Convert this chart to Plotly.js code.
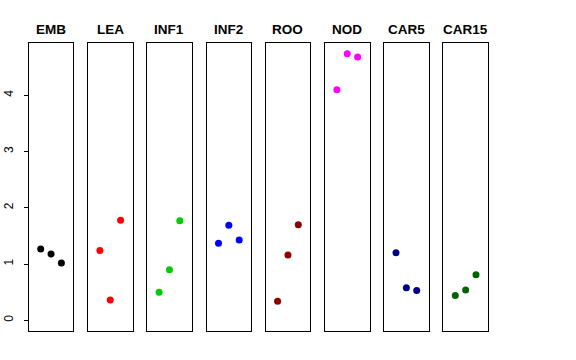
<!DOCTYPE html>
<html>
<head>
<meta charset="utf-8">
<script src="https://cdn.plot.ly/plotly-3.0.1.min.js"></script>
<style>html,body{margin:0;padding:0;background:#fff;}#chart{width:576px;height:360px;}</style>
</head>
<body>
<div id="chart"></div>
<script>
// Data
var categories = ["EMB", "LEA", "INF1", "INF2", "ROO", "NOD", "CAR5", "CAR15"];
var positions = [1, 2, 3];
var EMB   = [1.27, 1.18, 1.02];
var LEA   = [1.24, 0.36, 1.78];
var INF1  = [0.50, 0.90, 1.77];
var INF2  = [1.37, 1.69, 1.43];
var ROO   = [0.34, 1.16, 1.70];
var NOD   = [4.10, 4.74, 4.68];
var CAR5  = [1.20, 0.58, 0.53];
var CAR15 = [0.44, 0.54, 0.81];
var seriesValues = [EMB, LEA, INF1, INF2, ROO, NOD, CAR5, CAR15];
var colors = ["#000000", "#FF0000", "#00CD00", "#0000FF", "#8B0000", "#FF00FF", "#00008B", "#006400"];
var yTicks = [0, 1, 2, 3, 4];

var W = 576, H = 360;
var panelLefts = [28.7, 87.9, 147.1, 206.5, 265.6, 324.9, 384.0, 443.3];
var panelWidth = 44.7;
var panelTop = 43, panelBottom = 331;

var traces = [];
var layout = {
  width: W, height: H,
  margin: {l: 0, r: 0, t: 0, b: 0},
  paper_bgcolor: "#ffffff",
  plot_bgcolor: "#ffffff",
  showlegend: false,
  font: {family: "Liberation Sans, Arial, sans-serif", size: 11, color: "#000"},
  annotations: []
};

categories.forEach(function (cat, i) {
  var n = i + 1;
  var xa = "x" + (n === 1 ? "" : n);
  var ya = "y" + (n === 1 ? "" : n);
  traces.push({
    type: "scatter",
    mode: "markers",
    x: positions,
    y: seriesValues[i],
    xaxis: xa,
    yaxis: ya,
    marker: {color: colors[i], size: 7},
    hoverinfo: "skip"
  });
  var xkey = "xaxis" + (n === 1 ? "" : n);
  var ykey = "yaxis" + (n === 1 ? "" : n);
  layout[xkey] = {
    domain: [panelLefts[i] / W, (panelLefts[i] + panelWidth) / W],
    range: [-0.16, 4.16],
    anchor: ya,
    showgrid: false, zeroline: false, showticklabels: false, ticks: "",
    showline: true, mirror: true, linecolor: "#000", linewidth: 1
  };
  layout[ykey] = {
    domain: [1 - panelBottom / H, 1 - panelTop / H],
    range: [-0.19, 4.93],
    anchor: xa,
    showgrid: false, zeroline: false,
    showline: true, mirror: true, linecolor: "#000", linewidth: 1,
    showticklabels: n === 1,
    ticks: n === 1 ? "outside" : "",
    ticklen: 4, tickwidth: 1, tickcolor: "#000",
    tickmode: "array", tickvals: yTicks, ticktext: yTicks.map(String),
    tickangle: -90,
    ticklabelstandoff: 6,
    tickfont: {size: 12, color: "#000"}
  };
  layout.annotations.push({
    text: "<b>" + cat + "</b>",
    xref: "paper", yref: "paper",
    x: (panelLefts[i] + panelWidth / 2) / W,
    y: 1 - 29 / H,
    xanchor: "center", yanchor: "middle",
    showarrow: false,
    font: {size: 13.5, color: "#000", family: "Liberation Sans, Arial, sans-serif"}
  });
});

Plotly.newPlot("chart", traces, layout, {staticPlot: true, displayModeBar: false});
</script>
</body>
</html>
